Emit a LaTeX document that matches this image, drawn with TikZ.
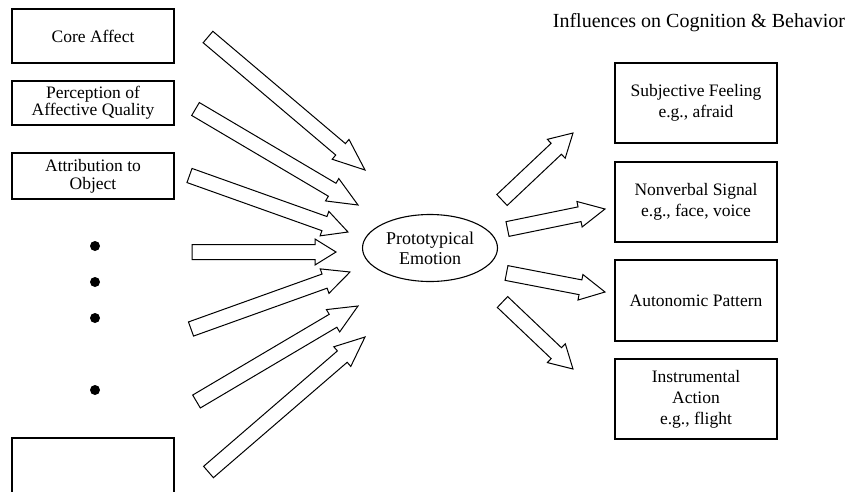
\documentclass[tikz,border=0pt]{standalone}
\usepackage{fontspec}
\setmainfont{Liberation Serif}
\usetikzlibrary{calc,shapes.geometric}

% hollow block arrow: [head length]{tail}{tip}
\newcommand\blockarr[3][27]{%
  \coordinate (neck) at ($(#3)!#1pt!(#2)$);
  \draw[blockarrow]
    ($(#2)!7.5pt!90:(#3)$) -- ($(neck)!7.5pt!90:(#3)$) --
    ($(neck)!13pt!90:(#3)$) -- (#3) --
    ($(neck)!13pt!-90:(#3)$) -- ($(neck)!7.5pt!-90:(#3)$) --
    ($(#2)!7.5pt!-90:(#3)$) -- cycle;
}

\begin{document}
\begin{tikzpicture}[x=1pt,y=-1pt,
  bx/.style={draw,line width=1.1pt,minimum width=162pt,inner sep=0pt,
    align=center,font=\fontsize{17.5}{21}\selectfont},
  blockarrow/.style={draw,line width=1pt,fill=white,line join=miter},
  dot/.style={circle,fill,inner sep=0pt,minimum size=10pt}]
\useasboundingbox (0,0) rectangle (852,491);
\clip (0,0) rectangle (852,491);

% antecedent components
\node[bx,minimum height=54pt] (core) at (93,36) {Core Affect};
\node[bx,minimum height=44pt,font=\fontsize{17.5}{15}\selectfont] (perc) at (93,103)
  {Perception of\\Affective Quality};
\node[bx,minimum height=46pt,font=\fontsize{17.5}{18}\selectfont] (attr) at (93,176)
  {Attribution to\\Object};
\node[dot] (d1) at (95,246) {};
\node[dot] (d2) at (95,282) {};
\node[dot] (d3) at (95,318) {};
\node[dot] (d4) at (95,390) {};
\node[bx,minimum height=60pt] (blank) at (93,468) {};

% central emotion
\node[draw,ellipse,line width=1.1pt,minimum width=135pt,minimum height=67pt,
  inner sep=0pt,align=center,font=\fontsize{18}{20}\selectfont] (emo) at (430,248)
  {Prototypical\\Emotion};

% consequences
\node[anchor=base,font=\fontsize{20}{24}\selectfont] (title) at (699,27)
  {Influences on Cognition \& Behavior};
\node[bx,minimum height=80pt] (subj) at (696,103) {Subjective Feeling\\e.g., afraid};
\node[bx,minimum height=80pt] (nonv) at (696,202) {Nonverbal Signal\\e.g., face, voice};
\node[bx,minimum height=81pt] (auto) at (696,300.5) {Autonomic Pattern};
\node[bx,minimum height=80pt] (inst) at (696,399)
  {Instrumental\\Action\\e.g., flight};

% incoming arrows
\coordinate (t1) at (208,37);    \coordinate (h1) at (365,170);
\coordinate (t2) at (195.5,109); \coordinate (h2) at (358,205);
\coordinate (t3) at (189.5,175.5); \coordinate (h3) at (348,232);
\coordinate (t4) at (192,252);   \coordinate (h4) at (336,252);
\coordinate (t5) at (191,329);   \coordinate (h5) at (350,272);
\coordinate (t6) at (196.5,401.5); \coordinate (h6) at (358,306);
\coordinate (t7) at (208.5,472); \coordinate (h7) at (365,337);
\blockarr[32]{t1}{h1}
\blockarr[30]{t2}{h2}
\blockarr[25]{t3}{h3}
\blockarr[21]{t4}{h4}
\blockarr[27]{t5}{h5}
\blockarr[29]{t6}{h6}
\blockarr[30]{t7}{h7}

% outgoing arrows
\coordinate (r1) at (502,200);   \coordinate (s1) at (573,133);
\coordinate (r2) at (507.5,229); \coordinate (s2) at (605,209);
\coordinate (r3) at (506.5,273); \coordinate (s3) at (605,292);
\coordinate (r4) at (502.5,302); \coordinate (s4) at (573,369);
\blockarr[23]{r1}{s1}
\blockarr[26]{r2}{s2}
\blockarr[25]{r3}{s3}
\blockarr[23]{r4}{s4}
\end{tikzpicture}
\end{document}
